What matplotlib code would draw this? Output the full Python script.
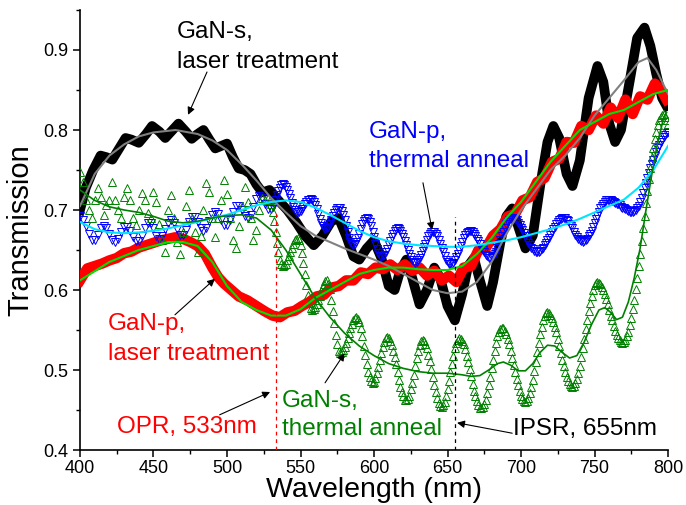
import numpy as np
import matplotlib.pyplot as plt

plt.rcParams['font.family'] = ['Liberation Sans', 'DejaVu Sans']

# GaN-s, laser treatment (measured, thick black)
gs_laser_wl = [400, 404, 409, 414, 418, 422, 426, 431, 435, 440, 445, 449, 454, 458, 463, 467,
               472, 476, 480, 484, 488, 492, 496, 500, 504, 508, 512, 516, 520, 524, 529, 535,
               541, 547, 553, 559, 565, 571, 576, 581, 586, 590, 595, 600, 605, 610, 614, 618,
               622, 626, 631, 636, 641, 645, 650, 655, 660, 664, 668, 672, 677, 681, 686, 690,
               694, 698, 703, 708, 713, 718, 722, 726, 731, 735, 740, 746, 752, 756, 760, 764,
               768, 774, 779, 784, 788, 792, 796, 799]
gs_laser_t = [0.700, 0.728, 0.750, 0.768, 0.766, 0.763, 0.775, 0.790, 0.788, 0.784, 0.795, 0.805,
              0.798, 0.790, 0.800, 0.808, 0.798, 0.789, 0.795, 0.800, 0.788, 0.777, 0.780, 0.783,
              0.766, 0.752, 0.750, 0.745, 0.732, 0.722, 0.725, 0.712, 0.700, 0.685, 0.668, 0.656,
              0.668, 0.686, 0.690, 0.668, 0.642, 0.638, 0.652, 0.662, 0.640, 0.605, 0.600, 0.625,
              0.638, 0.615, 0.582, 0.600, 0.628, 0.615, 0.580, 0.562, 0.595, 0.630, 0.640, 0.612,
              0.580, 0.610, 0.660, 0.692, 0.702, 0.680, 0.652, 0.668, 0.730, 0.785, 0.805, 0.790,
              0.745, 0.730, 0.762, 0.840, 0.880, 0.860, 0.808, 0.785, 0.800, 0.862, 0.915, 0.928,
              0.905, 0.870, 0.840, 0.830]

# smooth fit of GaN-s, laser treatment (grey)
gs_laser_fit_wl = [400, 410, 420, 430, 440, 450, 465, 480, 490, 500, 510, 520, 530, 540, 550, 560,
                   570, 580, 590, 600, 610, 620, 630, 640, 650, 660, 670, 680, 690, 700, 710, 720,
                   730, 740, 750, 760, 770, 780, 786, 792, 800]
gs_laser_fit_t = [0.705, 0.745, 0.768, 0.782, 0.792, 0.797, 0.800, 0.795, 0.787, 0.775, 0.757,
                  0.737, 0.715, 0.697, 0.680, 0.668, 0.660, 0.652, 0.645, 0.638, 0.630, 0.620,
                  0.610, 0.600, 0.596, 0.598, 0.610, 0.635, 0.670, 0.700, 0.725, 0.750, 0.768,
                  0.790, 0.818, 0.840, 0.862, 0.885, 0.890, 0.875, 0.845]

# GaN-p, laser treatment (measured, thick red)
gp_laser_wl = [400, 405, 410, 415, 420, 425, 430, 435, 440, 445, 450, 455, 460, 465, 470, 475,
               480, 485, 490, 494, 498, 503, 508, 514, 520, 526, 531, 536, 541, 546, 551, 556,
               561, 566, 571, 576, 581, 586, 591, 596, 601, 606, 611, 616, 621, 626, 631, 636,
               641, 646, 651, 656, 661, 666, 671, 676, 681, 686, 691, 696, 701, 706, 711, 716,
               721, 726, 731, 736, 741, 746, 751, 756, 761, 766, 771, 776, 781, 786, 791, 796,
               799]
gp_laser_t = [0.612, 0.627, 0.630, 0.633, 0.637, 0.640, 0.646, 0.648, 0.653, 0.656, 0.659, 0.662,
              0.664, 0.666, 0.664, 0.660, 0.655, 0.645, 0.628, 0.616, 0.608, 0.600, 0.592, 0.587,
              0.580, 0.573, 0.568, 0.566, 0.572, 0.574, 0.580, 0.585, 0.592, 0.594, 0.603, 0.605,
              0.612, 0.612, 0.622, 0.620, 0.628, 0.626, 0.632, 0.625, 0.632, 0.624, 0.628, 0.618,
              0.624, 0.612, 0.618, 0.610, 0.628, 0.630, 0.650, 0.652, 0.668, 0.676, 0.692, 0.695,
              0.712, 0.716, 0.735, 0.740, 0.760, 0.764, 0.785, 0.784, 0.805, 0.800, 0.818, 0.808,
              0.828, 0.815, 0.838, 0.820, 0.842, 0.838, 0.858, 0.848, 0.838]

# smooth fit of GaN-p, laser treatment (bright green)
gp_laser_fit_wl = [400, 420, 440, 460, 470, 480, 490, 500, 510, 520, 530, 540, 550, 560, 570, 580,
                   590, 600, 610, 620, 630, 640, 650, 660, 670, 680, 690, 700, 710, 720, 730, 740,
                   750, 760, 770, 780, 790, 800]
gp_laser_fit_t = [0.612, 0.635, 0.650, 0.660, 0.660, 0.655, 0.635, 0.605, 0.585, 0.575, 0.568,
                  0.568, 0.576, 0.590, 0.600, 0.610, 0.620, 0.625, 0.628, 0.628, 0.626, 0.625,
                  0.625, 0.630, 0.645, 0.665, 0.690, 0.710, 0.735, 0.760, 0.780, 0.800, 0.810,
                  0.820, 0.825, 0.835, 0.845, 0.850]

# GaN-p, thermal anneal (blue down-triangles):
# 400-528 nm every 2 nm, then 530-800 nm every 1 nm
gp_thermal_wl = np.concatenate([np.arange(400, 530, 2), np.arange(530, 801, 1)])
gp_thermal_t = [
    0.692, 0.688, 0.680, 0.670, 0.663, 0.663, 0.669, 0.677, 0.680, 0.677,
    0.670, 0.663, 0.660, 0.664, 0.672, 0.679, 0.679, 0.674, 0.666, 0.661,
    0.661, 0.668, 0.677, 0.684, 0.684, 0.677, 0.668, 0.664, 0.668, 0.676,
    0.684, 0.688, 0.684, 0.676, 0.669, 0.669, 0.675, 0.685, 0.691, 0.691,
    0.685, 0.677, 0.674, 0.678, 0.686, 0.694, 0.698, 0.695, 0.687, 0.681,
    0.681, 0.688, 0.698, 0.705, 0.705, 0.700, 0.693, 0.690, 0.694, 0.704,
    0.714, 0.718, 0.715, 0.707, 0.701,
    0.701, 0.704, 0.708, 0.713, 0.719, 0.724, 0.728, 0.731, 0.732, 0.731,
    0.729, 0.725, 0.720, 0.715, 0.709, 0.704, 0.700, 0.698, 0.697, 0.697,
    0.699, 0.701, 0.704, 0.707, 0.710, 0.712, 0.713, 0.714, 0.713, 0.710,
    0.706, 0.701, 0.695, 0.689, 0.684, 0.680, 0.677, 0.676, 0.677, 0.679,
    0.683, 0.687, 0.692, 0.696, 0.700, 0.702, 0.703, 0.702, 0.699, 0.694,
    0.687, 0.680, 0.672, 0.665, 0.660, 0.657, 0.656, 0.657, 0.660, 0.665,
    0.670, 0.676, 0.682, 0.686, 0.689, 0.690, 0.689, 0.685, 0.680, 0.673,
    0.666, 0.658, 0.651, 0.646, 0.642, 0.641, 0.642, 0.644, 0.647, 0.651,
    0.656, 0.661, 0.666, 0.670, 0.674, 0.676, 0.677, 0.676, 0.674, 0.670,
    0.666, 0.661, 0.656, 0.650, 0.645, 0.641, 0.637, 0.635, 0.634, 0.635,
    0.637, 0.640, 0.644, 0.649, 0.654, 0.658, 0.663, 0.667, 0.670, 0.672,
    0.673, 0.672, 0.670, 0.667, 0.663, 0.658, 0.652, 0.647, 0.642, 0.638,
    0.635, 0.633, 0.632, 0.632, 0.634, 0.637, 0.641, 0.645, 0.650, 0.655,
    0.660, 0.665, 0.669, 0.671, 0.673, 0.674, 0.674, 0.672, 0.670, 0.667,
    0.664, 0.661, 0.657, 0.653, 0.650, 0.647, 0.644, 0.642, 0.640, 0.640,
    0.641, 0.643, 0.645, 0.648, 0.652, 0.657, 0.662, 0.667, 0.673, 0.678,
    0.682, 0.685, 0.688, 0.689, 0.690, 0.690, 0.689, 0.687, 0.684, 0.681,
    0.678, 0.675, 0.671, 0.667, 0.663, 0.659, 0.656, 0.653, 0.651, 0.649,
    0.648, 0.648, 0.648, 0.649, 0.651, 0.653, 0.656, 0.659, 0.662, 0.665,
    0.669, 0.672, 0.676, 0.679, 0.682, 0.685, 0.687, 0.689, 0.690, 0.690,
    0.690, 0.688, 0.686, 0.683, 0.680, 0.677, 0.673, 0.669, 0.666, 0.664,
    0.662, 0.661, 0.660, 0.661, 0.662, 0.664, 0.667, 0.670, 0.674, 0.679,
    0.684, 0.689, 0.693, 0.698, 0.702, 0.705, 0.708, 0.710, 0.712, 0.712,
    0.712, 0.712, 0.711, 0.710, 0.709, 0.708, 0.707, 0.706, 0.704, 0.703,
    0.702, 0.701, 0.700, 0.699, 0.698, 0.698, 0.698, 0.699, 0.700, 0.702,
    0.705, 0.710, 0.715, 0.721, 0.728, 0.734, 0.740, 0.746, 0.752, 0.758,
    0.763, 0.768, 0.772, 0.777, 0.781, 0.785, 0.788, 0.791, 0.794, 0.796,
    0.798]

# smooth fit of GaN-p, thermal anneal (cyan)
gp_thermal_fit_wl = [400, 410, 420, 430, 440, 450, 460, 470, 480, 490, 500, 510, 520, 530, 540, 550,
                     560, 570, 580, 590, 600, 610, 620, 630, 640, 650, 660, 670, 680, 690, 700, 710,
                     720, 730, 740, 750, 760, 770, 780, 790, 800]
gp_thermal_fit_t = [0.685, 0.676, 0.672, 0.671, 0.672, 0.674, 0.677, 0.681, 0.685, 0.690, 0.694,
                    0.700, 0.706, 0.710, 0.712, 0.710, 0.703, 0.694, 0.684, 0.674, 0.666, 0.661,
                    0.658, 0.656, 0.655, 0.654, 0.654, 0.656, 0.659, 0.662, 0.666, 0.671, 0.676,
                    0.682, 0.689, 0.697, 0.705, 0.713, 0.728, 0.750, 0.780]

# GaN-s, thermal anneal (green up-triangles):
# 400-526 nm every 2 nm, then 528-800 nm every 1 nm
gs_thermal_wl = np.concatenate([np.arange(400, 528, 2), np.arange(528, 801, 1)])
gs_thermal_t = [
    0.748, 0.735, 0.712, 0.700, 0.690, 0.712, 0.728, 0.716, 0.694, 0.706,
    0.712, 0.735, 0.712, 0.700, 0.690, 0.716, 0.728, 0.712, 0.690, 0.681,
    0.700, 0.721, 0.712, 0.696, 0.690, 0.722, 0.710, 0.682, 0.662, 0.648,
    0.700, 0.719, 0.690, 0.660, 0.645, 0.672, 0.705, 0.725, 0.690, 0.672,
    0.648, 0.668, 0.700, 0.734, 0.722, 0.690, 0.666, 0.690, 0.712, 0.738,
    0.720, 0.690, 0.662, 0.652, 0.680, 0.705, 0.729, 0.710, 0.690, 0.662,
    0.675, 0.700, 0.715, 0.712,
    0.715, 0.712, 0.707, 0.697, 0.686, 0.672, 0.659, 0.648, 0.638, 0.633,
    0.630, 0.631, 0.633, 0.637, 0.642, 0.647, 0.653, 0.658, 0.662, 0.664,
    0.665, 0.662, 0.656, 0.646, 0.634, 0.620, 0.606, 0.594, 0.584, 0.578,
    0.575, 0.576, 0.579, 0.583, 0.588, 0.593, 0.599, 0.604, 0.608, 0.611,
    0.612, 0.608, 0.601, 0.588, 0.574, 0.559, 0.544, 0.533, 0.524, 0.521,
    0.522, 0.525, 0.529, 0.534, 0.540, 0.546, 0.553, 0.558, 0.562, 0.565,
    0.566, 0.564, 0.560, 0.552, 0.542, 0.530, 0.519, 0.508, 0.498, 0.491,
    0.486, 0.484, 0.485, 0.490, 0.496, 0.504, 0.512, 0.521, 0.529, 0.535,
    0.540, 0.541, 0.540, 0.536, 0.531, 0.524, 0.516, 0.507, 0.497, 0.488,
    0.479, 0.472, 0.467, 0.463, 0.462, 0.464, 0.468, 0.476, 0.484, 0.494,
    0.505, 0.515, 0.524, 0.531, 0.536, 0.537, 0.536, 0.532, 0.527, 0.519,
    0.511, 0.501, 0.491, 0.481, 0.472, 0.465, 0.459, 0.455, 0.454, 0.456,
    0.460, 0.468, 0.476, 0.486, 0.497, 0.508, 0.518, 0.527, 0.534, 0.538,
    0.540, 0.539, 0.536, 0.532, 0.526, 0.518, 0.510, 0.501, 0.492, 0.483,
    0.474, 0.467, 0.461, 0.456, 0.453, 0.452, 0.454, 0.458, 0.463, 0.471,
    0.481, 0.491, 0.502, 0.513, 0.524, 0.534, 0.542, 0.548, 0.551, 0.553,
    0.552, 0.549, 0.545, 0.539, 0.532, 0.524, 0.515, 0.506, 0.497, 0.489,
    0.481, 0.474, 0.468, 0.464, 0.461, 0.460, 0.461, 0.465, 0.471, 0.479,
    0.488, 0.499, 0.510, 0.522, 0.534, 0.545, 0.554, 0.562, 0.568, 0.571,
    0.572, 0.571, 0.569, 0.565, 0.560, 0.554, 0.547, 0.539, 0.530, 0.521,
    0.513, 0.505, 0.497, 0.491, 0.486, 0.482, 0.480, 0.479, 0.480, 0.484,
    0.489, 0.496, 0.505, 0.516, 0.527, 0.539, 0.551, 0.563, 0.574, 0.584,
    0.593, 0.600, 0.606, 0.609, 0.610, 0.609, 0.607, 0.604, 0.600, 0.595,
    0.589, 0.582, 0.575, 0.568, 0.562, 0.555, 0.549, 0.544, 0.540, 0.537,
    0.535, 0.534, 0.535, 0.538, 0.542, 0.548, 0.556, 0.565, 0.576, 0.588,
    0.601, 0.615, 0.630, 0.645, 0.661, 0.677, 0.693, 0.709, 0.724, 0.739,
    0.753, 0.766, 0.778, 0.789, 0.798, 0.806, 0.812, 0.816, 0.819, 0.820,
    0.816, 0.812, 0.808]

# smooth fit of GaN-s, thermal anneal (dark green)
gs_thermal_fit_wl = [400, 410, 420, 430, 440, 450, 460, 470, 480, 490, 500, 510, 520, 530, 540, 550,
                     560, 570, 580, 590, 600, 610, 620, 630, 640, 650, 660, 666, 672, 678, 684, 688,
                     693, 698, 703, 708, 713, 718, 723, 728, 733, 738, 743, 748, 753, 757, 761, 765,
                     769, 773, 777, 781, 785, 789, 793, 797, 799]
gs_thermal_fit_t = [0.725, 0.712, 0.704, 0.700, 0.697, 0.692, 0.686, 0.684, 0.686, 0.690, 0.693,
                    0.694, 0.690, 0.675, 0.650, 0.620, 0.590, 0.566, 0.546, 0.530, 0.518, 0.508,
                    0.502, 0.498, 0.496, 0.496, 0.494, 0.492, 0.493, 0.500, 0.508, 0.510, 0.506,
                    0.499, 0.499, 0.508, 0.522, 0.531, 0.530, 0.522, 0.515, 0.518, 0.535, 0.557,
                    0.575, 0.578, 0.572, 0.563, 0.566, 0.585, 0.615, 0.652, 0.700, 0.745, 0.785,
                    0.815, 0.822]

opr_wl = 533
ipsr_wl = 655

fig = plt.figure(figsize=(6.86, 5.05), dpi=100)
ax = fig.add_axes([0.1166, 0.1089, 0.8572, 0.8713])

ax.plot(gs_laser_wl, gs_laser_t, color='black', lw=7, solid_joinstyle='round', zorder=2)
ax.plot(gp_laser_wl, gp_laser_t, color='red', lw=7.5, solid_joinstyle='round', zorder=3)
ax.plot(gp_thermal_wl, gp_thermal_t, ls='none', marker='v', ms=5.5, mfc='none',
        mec='#0000ff', mew=0.7, zorder=4)
ax.plot(gs_thermal_wl, gs_thermal_t, ls='none', marker='^', ms=6, mfc='none',
        mec='#008000', mew=0.7, zorder=4)

ax.plot(gs_laser_fit_wl, gs_laser_fit_t, color='#808080', lw=1.5, zorder=5)
ax.plot(gp_laser_fit_wl, gp_laser_fit_t, color='#00e000', lw=1.5, zorder=5)
ax.plot(gp_thermal_fit_wl, gp_thermal_fit_t, color='#00e5ff', lw=1.5, zorder=5)
ax.plot(gs_thermal_fit_wl, gs_thermal_fit_t, color='#008000', lw=1.2, zorder=5)

ax.vlines(opr_wl, 0.4, 0.70, colors='red', linestyles=(0, (3, 3)), lw=0.9, zorder=6)
ax.vlines(ipsr_wl, 0.4, 0.691, colors='black', linestyles=(0, (3, 3)), lw=0.9, zorder=6)

fs = 17.5
ax.text(466, 0.915, 'GaN-s,', color='black', fontsize=fs, va='baseline')
ax.text(466, 0.8775, 'laser treatment', color='black', fontsize=fs, va='baseline')
ax.text(596.6, 0.79, 'GaN-p,', color='#0000ff', fontsize=fs, va='baseline')
ax.text(596.6, 0.754, 'thermal anneal', color='#0000ff', fontsize=fs, va='baseline')
ax.text(419, 0.55, 'GaN-p,', color='red', fontsize=fs, va='baseline')
ax.text(419, 0.5125, 'laser treatment', color='red', fontsize=fs, va='baseline')
ax.text(425.2, 0.421, 'OPR, 533nm', color='red', fontsize=fs, va='baseline')
ax.text(537.4, 0.454, 'GaN-s,', color='#008000', fontsize=fs, va='baseline')
ax.text(537.4, 0.419, 'thermal anneal', color='#008000', fontsize=fs, va='baseline')
ax.text(694.6, 0.419, 'IPSR, 655nm', color='black', fontsize=fs, va='baseline')

arrow = dict(arrowstyle='-|>', color='black', lw=0.8, mutation_scale=11, shrinkA=0, shrinkB=0)
for start, tip in [((486.4, 0.8725), (473.5, 0.819)),
                   ((633.3, 0.734), (639.5, 0.675)),
                   ((464.6, 0.569), (491.8, 0.614)),
                   ((495.0, 0.444), (529.3, 0.4725)),
                   ((566.7, 0.484), (580.0, 0.521)),
                   ((694.0, 0.421), (656.5, 0.434))]:
    ax.annotate('', xy=tip, xytext=start, arrowprops=arrow, zorder=7)

ax.set_xlim(400, 800)
ax.set_ylim(0.4, 0.95)
ax.set_xticks([400, 450, 500, 550, 600, 650, 700, 750, 800])
ax.set_xticks(np.arange(425, 800, 50), minor=True)
ax.set_yticks([0.4, 0.5, 0.6, 0.7, 0.8, 0.9])
ax.set_yticklabels(['0.4', '0.5', '0.6', '0.7', '0.8', '0.9'])
ax.set_yticks(np.arange(0.45, 0.96, 0.1), minor=True)
ax.tick_params(which='major', direction='out', length=5, width=1.1, labelsize=13)
ax.tick_params(axis='x', which='major', pad=2.5)
ax.tick_params(which='minor', direction='out', length=3, width=1.0)
ax.spines['top'].set_visible(False)
ax.spines['right'].set_visible(False)
for s in ('left', 'bottom'):
    ax.spines[s].set_linewidth(1.2)

ax.set_xlabel('Wavelength (nm)', fontsize=20.5, labelpad=0)
ax.set_ylabel('Transmission', fontsize=21, labelpad=6)

fig.savefig('out.png', dpi=100)
